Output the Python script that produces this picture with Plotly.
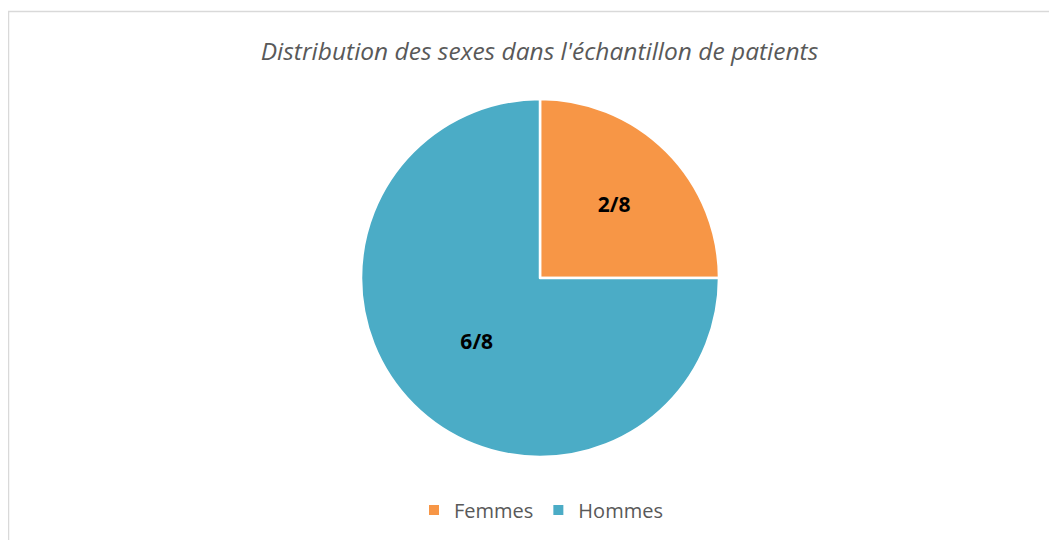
import plotly.graph_objects as go

labels = ["Femmes", "Hommes"]
values = [2, 6]
text_labels = ["2/8", "6/8"]
colors = ["#F79646", "#4BACC6"]

W, H = 1057, 540
OFF = 8  # page body margin offset
cx, cy, R = 540 - OFF, 278 - OFF, 179

fig = go.Figure(go.Pie(
    labels=labels,
    values=values,
    text=text_labels,
    textinfo="text",
    textposition="inside",
    insidetextorientation="horizontal",
    textfont=dict(family="Open Sans", size=21, color="black", weight="bold"),
    marker=dict(colors=colors, line=dict(color="white", width=2.5)),
    sort=False,
    direction="clockwise",
    rotation=0,
    domain=dict(x=[(cx - R) / W, (cx + R) / W], y=[1 - (cy + R) / H, 1 - (cy - R) / H]),
))

fig.update_layout(
    width=W, height=H,
    margin=dict(l=0, r=0, t=0, b=0),
    paper_bgcolor="white",
    plot_bgcolor="white",
    title=dict(
        text="<i>Distribution des sexes dans l'échantillon de patients</i>",
        x=(539.5 - OFF) / W, xref="paper", xanchor="center",
        y=1 - (51 - OFF) / H, yref="paper", yanchor="middle",
        font=dict(family="Open Sans", size=24.5, color="#595959"),
    ),
    showlegend=True,
    legend=dict(
        orientation="h",
        x=(541 - OFF) / W, xanchor="center",
        y=1 - (510 - OFF) / H, yanchor="middle",
        font=dict(family="Open Sans", size=20, color="#595959"),
        itemsizing="constant",
    ),
    shapes=[dict(
        type="rect", xref="paper", yref="paper",
        x0=(8.5 - OFF) / W, x1=1.02, y0=-0.05, y1=1 - (11.5 - OFF) / H,
        line=dict(color="#D9D9D9", width=1.5),
        fillcolor="rgba(0,0,0,0)",
        layer="below",
    )],
)

fig.write_html("out.html")
